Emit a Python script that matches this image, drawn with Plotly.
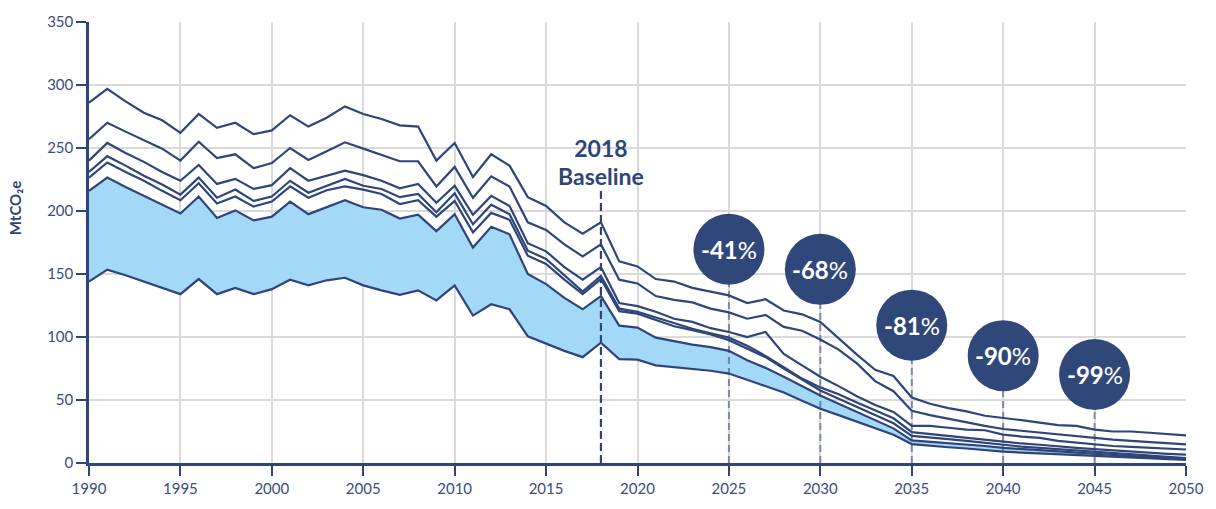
import plotly.graph_objects as go

years = list(range(1990, 2051))

s1 = [286, 297, 287, 278, 272, 262, 277, 266, 270, 261,
      264, 276, 267, 274, 283, 277, 273, 268, 267, 240,
      254, 227, 245, 236, 211, 204, 191, 182, 191, 160,
      156, 146, 144, 139, 136, 133, 127, 130, 121, 118,
      112, 99, 86, 74, 69, 52, 47, 43.5, 41, 37.5,
      36, 34, 32, 30, 29.5, 26.5, 25, 25, 24, 23,
      22]
s2 = [257, 270, 263, 256.5, 249.5, 240, 255, 242, 245, 234,
      238, 250, 240.5, 247.5, 254.5, 249.5, 244.5, 239.5, 239.5, 219.5,
      235, 210.5, 227.5, 219.5, 191, 185, 173.5, 164, 173.5, 145.5,
      142.5, 132.5, 129.5, 127.5, 122.5, 119.5, 114.5, 117.5, 108, 105,
      98, 90, 79, 65, 57, 41.5, 38, 35, 32.5, 29.5,
      27, 25.5, 24.5, 22.5, 21, 20, 18.5, 17.5, 16.5, 15.5,
      14.8]
s3 = [240, 254, 246, 239, 231, 224, 236.5, 221.5, 225.5, 217.5,
      220.5, 234, 224, 228, 232, 228.5, 224, 218, 221.5, 206.5,
      220, 197, 212, 204, 174.5, 168, 155.5, 145.5, 155.5, 127,
      124.5, 120, 114.5, 112, 107, 104, 100, 104, 86.5, 77.5,
      68.5, 61, 53, 46, 40.5, 29.5, 29.5, 28, 26.5, 26,
      22.5, 21, 20, 17.5, 16, 15, 13.5, 12.8, 12, 11.2,
      10.7]
s4 = [231, 243.5, 236, 228, 221, 213, 226.5, 210.5, 217, 208,
      211.5, 224, 214.5, 220, 225.5, 220, 217.5, 211, 213.5, 199,
      214, 189.5, 205, 197.5, 168.5, 162, 149, 136, 148.5, 122.5,
      120, 115.5, 110.5, 106.5, 103, 99.5, 93, 85, 76, 67,
      60, 54.5, 48, 41.5, 35.5, 24.5, 23, 21.5, 20, 18.5,
      16.5, 15.5, 14.5, 13, 12, 11, 10, 9, 8, 7.3,
      6.6]
s5 = [226.5, 238.5, 231, 224, 216, 208.5, 222, 206, 211.5, 203.5,
      207.5, 219.5, 210.5, 216.5, 219.5, 217, 213.5, 205.5, 208.5, 195.5,
      208, 183, 198.5, 193, 164.5, 158, 145.5, 134, 146, 120.5,
      118.5, 113.5, 108.5, 105.5, 102, 97.5, 90.5, 84, 75, 66,
      57.5, 51, 44.5, 38, 31.5, 21.5, 20.5, 19, 17.5, 16,
      14, 13, 12, 11, 10, 9, 8, 7, 6, 4.8,
      3.8]
s6 = [216, 226.5, 219, 212, 205, 198, 211.5, 194.5, 200.5, 192.5,
      195.5, 207.5, 197.5, 203, 208.5, 203, 201, 194, 197, 184,
      197.5, 171, 187.5, 181.5, 150, 142, 131, 122, 132.5, 109,
      107.5, 99.5, 96.5, 94, 92, 89, 81.5, 75.5, 68.5, 61,
      53.5, 47, 40.5, 34, 27.5, 18, 17, 16, 15, 13.5,
      12, 11, 10, 9, 8.2, 7.5, 6.5, 5.5, 4.6, 3.8,
      3.2]
s7 = [144, 153.5, 149, 144, 139, 134, 146, 134, 139, 134,
      138, 145.5, 141, 145, 147, 141, 137, 133.5, 137, 129,
      141, 117, 126, 122, 100.5, 94.5, 89, 84, 95.5, 82.5,
      82, 77.5, 76.2, 75, 73.2, 71, 66, 61, 56, 49.5,
      43, 38, 33, 27.5, 22.5, 15, 13.5, 12.5, 11.5, 10,
      9, 8.3, 7.6, 7, 6.4, 5.8, 5, 4.3, 3.6, 3,
      2.5]

baseline_year = 2018
baseline_top = 219
target_years = [2025, 2030, 2035, 2040, 2045]
target_labels = ["-41", "-68", "-81", "-90", "-99"]
target_heights = [169.6, 153.7, 109.4, 85.2, 70.2]

NAVY = "#2f4579"
CIRCLE = "#30477a"
FILL = "#a3d8f6"
TXT = "#3b4c7b"
FONT = "Lato"

fig = go.Figure()

# filled band: s7 (bottom) to s6 (top)
fig.add_trace(go.Scatter(x=years, y=s7, mode="lines",
                         line=dict(color=NAVY, width=2.2), hoverinfo="skip"))
fig.add_trace(go.Scatter(x=years, y=s6, mode="lines", fill="tonexty",
                         fillcolor=FILL, line=dict(color=NAVY, width=2.2),
                         hoverinfo="skip"))
for s in [s5, s4, s3, s2, s1]:
    fig.add_trace(go.Scatter(x=years, y=s, mode="lines",
                             line=dict(color=NAVY, width=2.2), hoverinfo="skip"))

# target dashed lines
for ty, th in zip(target_years, target_heights):
    fig.add_trace(go.Scatter(x=[ty, ty], y=[0, th], mode="lines",
                             line=dict(color="rgba(47,69,121,0.55)", width=2,
                                       dash="7px,4px"), hoverinfo="skip"))

# baseline dashed line
fig.add_trace(go.Scatter(x=[baseline_year, baseline_year], y=[0, baseline_top],
                         mode="lines",
                         line=dict(color=NAVY, width=2.2, dash="8px,4px"),
                         hoverinfo="skip"))

# circles
fig.add_trace(go.Scatter(
    x=target_years, y=target_heights, mode="markers",
    marker=dict(size=71, color=CIRCLE, line=dict(width=0)),
    hoverinfo="skip"))
for ty, th, lab in zip(target_years, target_heights, target_labels):
    fig.add_annotation(x=ty, y=th, xref="x", yref="y",
                       text="<b>%s</b>%%" % lab, showarrow=False,
                       font=dict(color="white", size=24, family=FONT))

fig.add_annotation(
    x=baseline_year, y=238.5, xref="x", yref="y", xanchor="center",
    yanchor="middle",
    text=("<b><span style='font-size:23px'>2018</span></b><br>"
          "<b><span style='font-size:23px'>Baseline</span></b>"),
    showarrow=False, font=dict(size=21.5, color=NAVY, family=FONT))

fig.add_annotation(x=-0.0678, y=0.577, xref="paper", yref="paper",
                   xanchor="center", yanchor="middle",
                   text="<b>MtCO₂e</b>", textangle=-90,
                   showarrow=False, font=dict(size=15, color=NAVY, family=FONT))

fig.update_layout(
    width=1216, height=509, autosize=False,
    margin=dict(l=89, r=20, t=20, b=33),
    paper_bgcolor="white", plot_bgcolor="white",
    showlegend=False,
    font=dict(family=FONT, color=TXT, size=15),
)
fig.update_xaxes(range=[1990, 2050], tick0=1990, dtick=5,
                 showgrid=True, gridcolor="#dadada", gridwidth=1.5,
                 showline=True, linecolor=NAVY, linewidth=2.5,
                 ticks="outside", ticklen=10, tickwidth=2, tickcolor=NAVY,
                 tickfont=dict(size=15, color=TXT, family=FONT),
                 zeroline=False, fixedrange=True)
fig.update_yaxes(range=[0, 350], tick0=0, dtick=50,
                 showgrid=True, gridcolor="#dadada", gridwidth=1.5,
                 showline=True, linecolor=NAVY, linewidth=2.5,
                 ticks="outside", ticklen=10, tickwidth=2, tickcolor=NAVY,
                 tickfont=dict(size=15, color=TXT, family=FONT),
                 zeroline=False, fixedrange=True)

post = (
    "document.documentElement.style.overflow='hidden';"
    "document.body.style.margin='0';"
    "document.body.style.overflow='hidden';"
)
fig.write_html("out.html", config={"displayModeBar": False}, post_script=post)
